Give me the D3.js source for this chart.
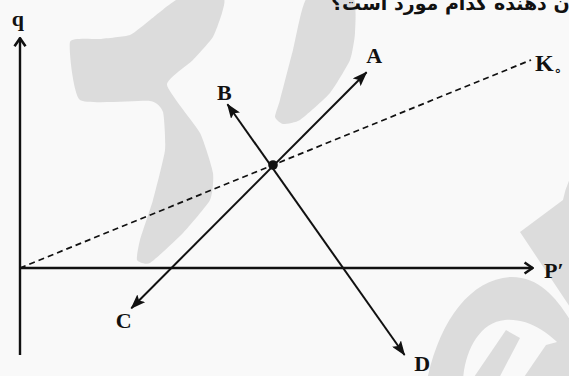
<!DOCTYPE html>
<html lang="fa">
<head>
<meta charset="UTF-8">
<title>q - P'</title>
<script src="https://d3js.org/d3.v7.min.js"></script>
<style>
  body { margin: 0; background: #f9f9f9; }
  svg { display: block; }
  .lbl { font-family: "Liberation Serif", "Times New Roman", serif; font-weight: bold; fill: #111; }
</style>
</head>
<body>
<div id="vis"></div>
<script>
// endpoints of the two arrows, in chart units (origin = where q and P' meet)
const lineAC = [{x: 2.2, y: -0.78}, {x: 6.85, y: 3.8}];
const lineBD = [{x: 4.1, y: 3.18}, {x: 7.6, y: -1.69}];
const lineK = [{x: 0, y: 0}, {x: 10.1, y: 4.04}];
const crossing = {x: 5, y: 2};
const axisQ = [{x: 0, y: -1.69}, {x: 0, y: 4.47}];
const axisP = [{x: 0, y: 0}, {x: 10.14, y: 0}];
const labels = [
  {t: "A", x: 7.0, y: 4.13},
  {t: "B", x: 4.04, y: 3.4},
  {t: "C", x: 2.05, y: -1.02},
  {t: "D", x: 7.95, y: -1.86},
  {t: "q", x: -0.04, y: 4.85},
  {t: "P′", x: 10.55, y: -0.04}
];
const questionText = "نشان دهنده کدام مورد است؟";

const width = 569, height = 376;
const svg = d3.select("#vis").append("svg")
  .attr("width", width).attr("height", height);

const x = d3.scaleLinear().domain([0, 10]).range([20, 526]);
const y = d3.scaleLinear().domain([0, 4]).range([268, 62]);

// watermark in the background (decoration only)
const wm = svg.append("g").attr("fill", "#dcdcdc").attr("stroke", "none");
const blob = d3.line().curve(d3.curveCardinalClosed.tension(0.5));
wm.append("path").attr("d", blob([[70,42],[100,39],[130,35],[150,20],[180,-2],[223,-2],[222,13],[213,37],[193,60],[167,85],
  [200,133],[213,173],[210,200],[183,233],[150,263],[137,260],[140,240],[153,200],[165,150],[163,112],[150,101],[80,100]]));
wm.append("path").attr("d", blob([[307,-2],[293,50],[280,100],[275,117],[283,124],[300,120],[330,93],[350,60],[355,33],[353,-2]]));
wm.append("path").attr("d", "M520,232 L563,200 Q566,185 572,175 L572,310 Z");
wm.append("path").attr("d", "M427,380 C440,320 470,280 510,277 C540,276 558,300 572,323 L572,360 C555,335 530,318 505,320 C480,322 465,350 463,380 Z");
wm.append("path").attr("d", "M472,380 L506,330 L520,338 L498,380 Z");
wm.append("path").attr("d", "M522,380 L546,345 L572,338 L572,380 Z");

// question text, cut by the top edge as in the source
svg.append("text")
  .attr("x", 331).attr("y", 10)
  .attr("font-family", "DejaVu Sans, sans-serif")
  .attr("font-weight", "bold")
  .attr("font-size", 19)
  .attr("fill", "#111")
  .text(questionText);

const defs = svg.append("defs");
defs.append("marker")
  .attr("id", "tip")
  .attr("viewBox", "0 0 15 11")
  .attr("refX", 14).attr("refY", 5.5)
  .attr("markerWidth", 15).attr("markerHeight", 11)
  .attr("markerUnits", "userSpaceOnUse")
  .attr("orient", "auto-start-reverse")
  .append("path")
  .attr("d", "M0,0 L15,5.5 L0,11 L3,5.5 Z")
  .attr("fill", "#111");
defs.append("marker")
  .attr("id", "chev")
  .attr("viewBox", "0 0 11 14")
  .attr("refX", 10).attr("refY", 7)
  .attr("markerWidth", 11).attr("markerHeight", 14)
  .attr("markerUnits", "userSpaceOnUse")
  .attr("orient", "auto")
  .append("path")
  .attr("d", "M1.5,1.5 L9.5,7 L1.5,12.5")
  .attr("fill", "none").attr("stroke", "#111").attr("stroke-width", 2.6);

const line = d3.line().x(d => x(d.x)).y(d => y(d.y));

svg.append("path").datum(axisQ).attr("d", line)
  .attr("stroke", "#111").attr("stroke-width", 2.4).attr("fill", "none")
  .attr("marker-end", "url(#chev)");
svg.append("path").datum(axisP).attr("d", line)
  .attr("stroke", "#111").attr("stroke-width", 2.4).attr("fill", "none")
  .attr("marker-end", "url(#chev)");

svg.append("path").datum(lineK).attr("d", line)
  .attr("stroke", "#111").attr("stroke-width", 1.7).attr("fill", "none")
  .attr("stroke-dasharray", "6,4");

[lineAC, lineBD].forEach(seg => {
  svg.append("path").datum(seg).attr("d", line)
    .attr("stroke", "#111").attr("stroke-width", 2).attr("fill", "none")
    .attr("marker-start", "url(#tip)")
    .attr("marker-end", "url(#tip)");
});

svg.append("circle")
  .attr("cx", x(crossing.x)).attr("cy", y(crossing.y))
  .attr("r", 4.8).attr("fill", "#111");

svg.selectAll("text.lbl").data(labels).enter().append("text")
  .attr("class", "lbl")
  .attr("x", d => x(d.x)).attr("y", d => y(d.y))
  .attr("text-anchor", "middle")
  .attr("dominant-baseline", "central")
  .attr("font-size", 22)
  .text(d => d.t);

// K with a small zero subscript
const k = svg.append("text")
  .attr("class", "lbl")
  .attr("x", x(10.18)).attr("y", y(3.98))
  .attr("dominant-baseline", "central")
  .attr("font-size", 24);
k.append("tspan").text("K");
k.append("tspan").attr("font-family", "DejaVu Sans, sans-serif")
  .attr("font-size", 13).attr("dy", 7).text("∘");
</script>
</body>
</html>
